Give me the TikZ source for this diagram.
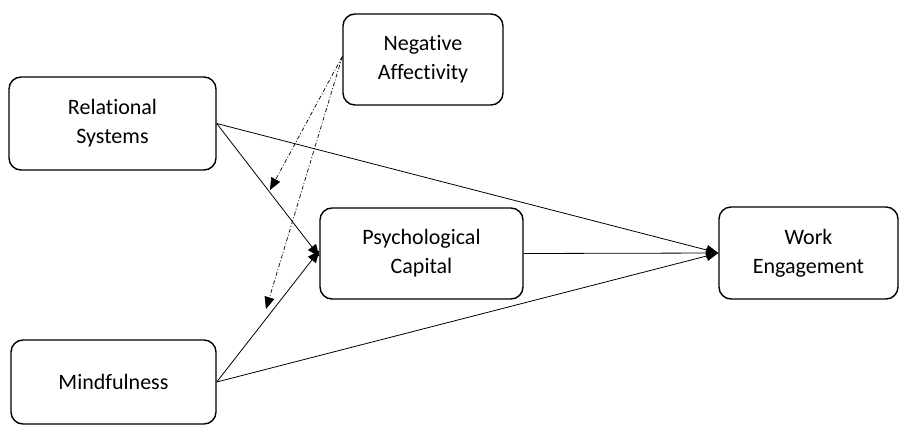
\documentclass[tikz,border=0pt]{standalone}
\usepackage{fontspec}
\setmainfont[Ligatures=NoCommon]{Carlito}
\usetikzlibrary{arrows.meta}
\begin{document}
\begin{tikzpicture}[x=1pt,y=-1pt,
  box/.style={draw,line width=1.4pt,rounded corners=12pt,align=center,font=\fontsize{22}{29}\selectfont,inner sep=0pt},
  conn/.style={line width=0.8pt,-{Triangle[length=12pt,width=10pt]}},
  dconn/.style={line width=0.7pt,dash pattern=on 4pt off 2pt on 1pt off 2pt,-{Triangle[length=12pt,width=10pt]}}]
\useasboundingbox (0,0) rectangle (914,429);
\node[box,minimum width=207pt,minimum height=93pt] (RS) at (112.5,123.5) {Relational\\Systems};
\node[box,minimum width=160pt,minimum height=91pt] (NA) at (423,59.5) {Negative\\Affectivity};
\node[box,minimum width=203pt,minimum height=91pt] (PC) at (421.5,253.5) {Psychological\\Capital};
\node[box,minimum width=179pt,minimum height=92pt] (WE) at (808.5,253) {Work\\Engagement};
\node[box,minimum width=205pt,minimum height=84pt] (MF) at (113.5,382) {Mindfulness};
\coordinate (T1) at (270,190);
\coordinate (T2) at (266,309);
\draw[conn] (RS.east) -- (WE.west);
\draw[conn] (MF.east) -- (WE.west);
\draw[conn] (PC.east) -- (WE.west);
\draw[conn] (RS.east) -- ([yshift=-3pt]PC.west);
\draw[conn] (MF.east) -- ([yshift=3pt]PC.west);
\draw[dconn] ([yshift=3pt]NA.west) -- (T1);
\draw[dconn] ([yshift=3pt]NA.west) -- (T2);
\end{tikzpicture}
\end{document}
